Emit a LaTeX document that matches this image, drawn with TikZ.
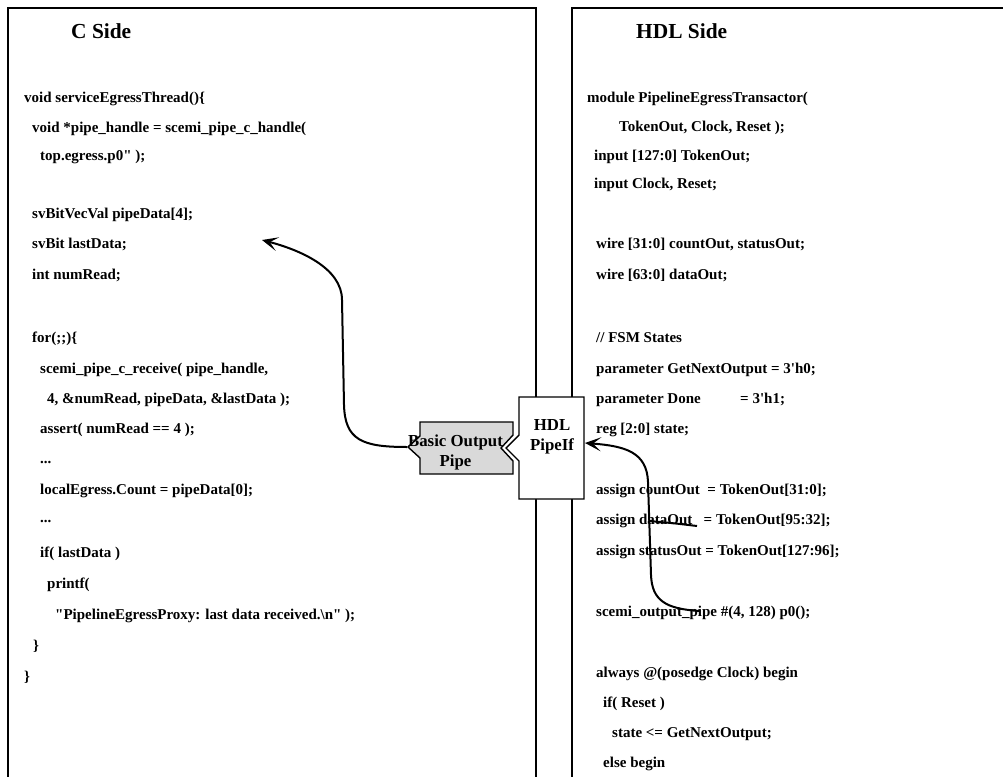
\documentclass[tikz,border=0pt]{standalone}
\usepackage{fontspec}
\setmainfont{Liberation Serif}
\newfontfamily\codefont{Liberation Serif}
\usetikzlibrary{arrows.meta}
\tikzset{
  panel/.style={draw=black, line width=1.6pt},
  code/.style={anchor=west, inner sep=0pt, font=\codefont\bfseries\fontsize{15}{18}\selectfont, text height=12pt, text depth=2pt},
  sidetitle/.style={anchor=west, inner sep=0pt, font=\codefont\bfseries\fontsize{21.4}{25}\selectfont, text height=14pt, text depth=0pt},
  boxlabel/.style={align=center, inner sep=0pt, font=\codefont\bfseries\fontsize{16.8}{20}\selectfont},
  shapeline/.style={draw=black, line width=1.4pt},
  conn/.style={line width=2pt, -{Stealth[length=16pt,width=14pt,inset=8pt]}},
}
\begin{document}
\begin{tikzpicture}[x=1pt,y=-1pt]
\useasboundingbox (0,0) rectangle (1003,776);
\fill[white] (0,0) rectangle (1003,776);
\clip (0,0) rectangle (1003,776);
% panels
\draw[panel] (8,8) rectangle (536,820);
\draw[panel] (572,8) rectangle (1030,820);
% pipe shapes
\draw[shapeline, fill=white] (519,397) -- (584,397) -- (584,499) -- (519,499) -- (519,461) -- (506,448) -- (519,435) -- cycle;
\draw[shapeline, fill=black!15] (420,422) -- (513,422) -- (513,435) -- (501,448) -- (513,461) -- (513,474) -- (420,474) -- (420,458) -- (408,447) -- (420,436) -- cycle;
\node[boxlabel] (pipe) at (455.5,452) {Basic Output\\Pipe};
\node[boxlabel] (hdl) at (552,437) {HDL\\PipeIf};
% C side
\node[sidetitle] (ct) at (71,32) {C Side};
\node[code] (l1) at (24,97) {void serviceEgressThread()\{};
\node[code] (l2) at (32,127) {void *pipe\_handle = scemi\_pipe\_c\_handle(};
\node[code] (l3) at (40,155) {top.egress.p0" );};
\node[code] (l4) at (32,213) {svBitVecVal pipeData[4];};
\node[code] (l5) at (32,243) {svBit lastData;};
\node[code] (l6) at (32,274) {int numRead;};
\node[code] (l7) at (32,337) {for(;;)\{};
\node[code] (l8) at (40,368) {scemi\_pipe\_c\_receive( pipe\_handle,};
\node[code] (l9) at (47,398) {4, \&numRead, pipeData, \&lastData );};
\node[code] (l10) at (40,428) {assert( numRead == 4 );};
\node[code] (l11) at (40,458) {...};
\node[code] (l12) at (40,489) {localEgress.Count = pipeData[0];};
\node[code] (l13) at (40,517) {...};
\node[code] (l14) at (40,552) {if( lastData )};
\node[code] (l15) at (47,583) {printf(};
\node[code] (l16) at (55,614) {"PipelineEgressProxy: last data received.\textbackslash n" );};
\node[code] (l17) at (33,645) {\}};
\node[code] (l18) at (24,676) {\}};
% HDL side
\node[sidetitle] (ht) at (636,32) {HDL Side};
\node[code] (r1) at (587,97) {module PipelineEgressTransactor(};
\node[code] (r2) at (619,126) {TokenOut, Clock, Reset );};
\node[code] (r3) at (594,155) {input [127:0] TokenOut;};
\node[code] (r4) at (594,183) {input Clock, Reset;};
\node[code] (r5) at (596,243) {wire [31:0] countOut, statusOut;};
\node[code] (r6) at (596,274) {wire [63:0] dataOut;};
\node[code] (r7) at (596,337) {// FSM States};
\node[code] (r8) at (596,368) {parameter GetNextOutput = 3'h0;};
\node[code] (r9) at (596,398) {\makebox[144pt][l]{parameter Done}= 3'h1;};
\node[code] (r10) at (596,428) {reg [2:0] state;};
\node[code] (r11) at (596,489) {assign countOut~ = TokenOut[31:0];};
\node[code] (r12) at (596,519) {assign dataOut~~ = TokenOut[95:32];};
\node[code] (r13) at (596,550) {assign statusOut = TokenOut[127:96];};
\node[code] (r14) at (596,611) {scemi\_output\_pipe \#(4, 128) p0();};
\node[code] (r15) at (596,672) {always @(posedge Clock) begin};
\node[code] (r16) at (603,702) {if( Reset )};
\node[code] (r17) at (612,732) {state <= GetNextOutput;};
\node[code] (r18) at (603,762) {else begin};
% connectors
\coordinate (pipetip) at (407,447);
\coordinate (lastDataPt) at (262,240);
\draw[conn] (pipetip) .. controls (362,447) and (345,440) .. (344,405) -- (342,300) .. controls (342,268) and (300,250) .. (lastDataPt);
\coordinate (pipeOut) at (700,611);
\coordinate (hdlR) at (585,443);
\coordinate (fork) at (649,521);
\coordinate (dataEnd) at (697,526);
\draw[conn] (pipeOut) .. controls (665,609) and (652,600) .. (651,575) -- (648,482) .. controls (647,452) and (625,446) .. (hdlR);
\draw[line width=2pt] (fork) .. controls (672,523) .. (dataEnd);
\end{tikzpicture}
\end{document}
